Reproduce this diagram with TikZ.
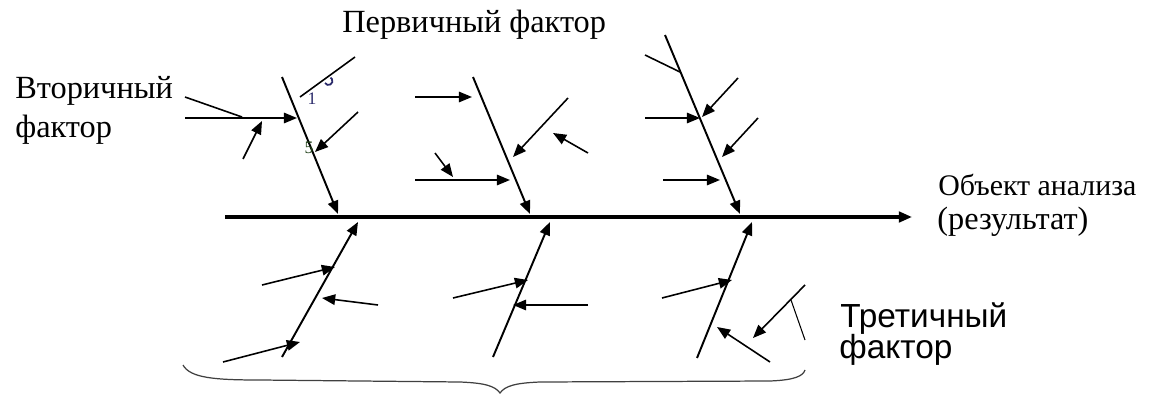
\documentclass[tikz,border=0pt]{standalone}
\usepackage{fontspec}
\setmainfont{Liberation Serif}
\setsansfont{Liberation Sans}
\usetikzlibrary{arrows.meta}
\definecolor{glyphblue}{HTML}{2A2A6A}
\definecolor{glyphgreen}{HTML}{3A7A2A}

\begin{document}
\begin{tikzpicture}[x=0.02cm, y=-0.02cm, >={Triangle[length=7.5pt,width=6pt]},
    bone/.style={line width=1.1pt},
    twig/.style={line width=0.9pt},
    label/.style={anchor=base west, inner sep=0pt, font=\fontsize{18.4}{20}\selectfont}]
    \useasboundingbox (0,0) rectangle (1155,395);

    % Spine
    \coordinate (S0) at (225,217);
    \coordinate (S1) at (912,217);
    \draw[line width=1.8pt, ->] (S0) -- (S1);

    % Upper bones
    \coordinate (U1a) at (282,77);  \coordinate (U1b) at (338,214);
    \coordinate (U2a) at (473,77);  \coordinate (U2b) at (530,214);
    \coordinate (U3a) at (665,35);  \coordinate (U3b) at (740,214);
    \draw[bone, ->] (U1a) -- (U1b);
    \draw[bone, ->] (U2a) -- (U2b);
    \draw[bone, ->] (U3a) -- (U3b);

    % Lower bones
    \coordinate (L1a) at (282,357); \coordinate (L1b) at (358,222);
    \coordinate (L2a) at (493,357); \coordinate (L2b) at (550,222);
    \coordinate (L3a) at (697,358); \coordinate (L3b) at (752,222);
    \draw[bone, ->] (L1a) -- (L1b);
    \draw[bone, ->] (L2a) -- (L2b);
    \draw[bone, ->] (L3a) -- (L3b);

    % Twigs on upper bone 1
    \coordinate (a1) at (185,118); \coordinate (a2) at (297,118);
    \coordinate (a3) at (185,97);  \coordinate (a4) at (242,117);
    \coordinate (a5) at (243,159); \coordinate (a6) at (262,121);
    \coordinate (a7) at (358,112); \coordinate (a8) at (315,152);
    \coordinate (a9) at (355,57);  \coordinate (a10) at (300,97);
    \draw[twig, ->] (a1) -- (a2);
    \draw[twig] (a3) -- (a4);
    \draw[twig, ->] (a5) -- (a6);
    \draw[twig, ->] (a7) -- (a8);
    \draw[twig] (a9) -- (a10);

    % Twigs on upper bone 2
    \coordinate (b1) at (415,97);  \coordinate (b2) at (472,97);
    \coordinate (b3) at (568,98);  \coordinate (b4) at (513,157);
    \coordinate (b5) at (588,153); \coordinate (b6) at (553,133);
    \coordinate (b7) at (435,153); \coordinate (b8) at (453,177);
    \coordinate (b9) at (415,180); \coordinate (b10) at (510,180);
    \draw[twig, ->] (b1) -- (b2);
    \draw[twig, ->] (b3) -- (b4);
    \draw[twig, ->] (b5) -- (b6);
    \draw[twig, ->] (b7) -- (b8);
    \draw[twig, ->] (b9) -- (b10);

    % Twigs on upper bone 3
    \coordinate (c1) at (645,55);  \coordinate (c2) at (680,72);
    \coordinate (c3) at (738,78);  \coordinate (c4) at (702,117);
    \coordinate (c5) at (645,118); \coordinate (c6) at (700,118);
    \coordinate (c7) at (758,118); \coordinate (c8) at (722,157);
    \coordinate (c9) at (663,180); \coordinate (c10) at (720,180);
    \draw[twig] (c1) -- (c2);
    \draw[twig, ->] (c3) -- (c4);
    \draw[twig, ->] (c5) -- (c6);
    \draw[twig, ->] (c7) -- (c8);
    \draw[twig, ->] (c9) -- (c10);

    % Twigs on lower bones
    \coordinate (d1) at (262,285); \coordinate (d2) at (335,267);
    \coordinate (d3) at (378,305); \coordinate (d4) at (322,298);
    \coordinate (d5) at (223,362); \coordinate (d6) at (300,342);
    \draw[twig, ->] (d1) -- (d2);
    \draw[twig, ->] (d3) -- (d4);
    \draw[twig, ->] (d5) -- (d6);
    \coordinate (e1) at (453,298); \coordinate (e2) at (528,280);
    \coordinate (e3) at (588,305); \coordinate (e4) at (513,305);
    \draw[twig, ->] (e1) -- (e2);
    \draw[twig, ->] (e3) -- (e4);
    \coordinate (f1) at (662,298); \coordinate (f2) at (732,280);
    \coordinate (f3) at (770,362); \coordinate (f4) at (717,327);
    \coordinate (f5) at (805,285); \coordinate (f6) at (753,338);
    \coordinate (f7) at (791,300); \coordinate (f8) at (805,340);
    \draw[twig, ->] (f1) -- (f2);
    \draw[twig, ->] (f3) -- (f4);
    \draw[twig, ->] (f5) -- (f6);
    \draw[line width=0.6pt] (f7) -- (f8);

    % Stray marks near bone 1
    \node[inner sep=0pt, text=glyphblue, font=\fontsize{10}{10}\selectfont] (g1) at (312,99) {1};
    \node[inner sep=0pt, text=glyphgreen!50!black, font=\fontsize{10}{10}\selectfont] (g2) at (309,148) {5};
    \draw[line width=1pt, glyphblue] (325,83) arc (150:-60:4);

    % Labels
    \node[label] (sec1) at (15,98) {Вторичный};
    \node[label] (sec2) at (15,137) {фактор};
    \node[label] (prim) at (342,33) {Первичный фактор};
    \node[label, font=\fontsize{17}{20}\selectfont] (obj1) at (938,195) {Объект анализа};
    \node[label] (obj2) at (937,229) {(результат)};
    \node[label, font=\sffamily\fontsize{19}{20}\selectfont] (ter1) at (840,327) {Третичный};
    \node[label, font=\sffamily\fontsize{19}{20}\selectfont] (ter2) at (839,358) {фактор};

    % Brace under the lower bones
    \coordinate (brL) at (183,365);
    \coordinate (brM) at (500,393);
    \coordinate (brR) at (805,370);
    \draw[line width=0.7pt, black!75] (brL) .. controls (190,378) and (215,380) .. (260,380)
        -- (460,382) .. controls (485,383) and (495,386) .. (brM)
        .. controls (505,386) and (515,383) .. (540,382)
        -- (770,381) .. controls (795,380) and (803,376) .. (brR);
\end{tikzpicture}
\end{document}
